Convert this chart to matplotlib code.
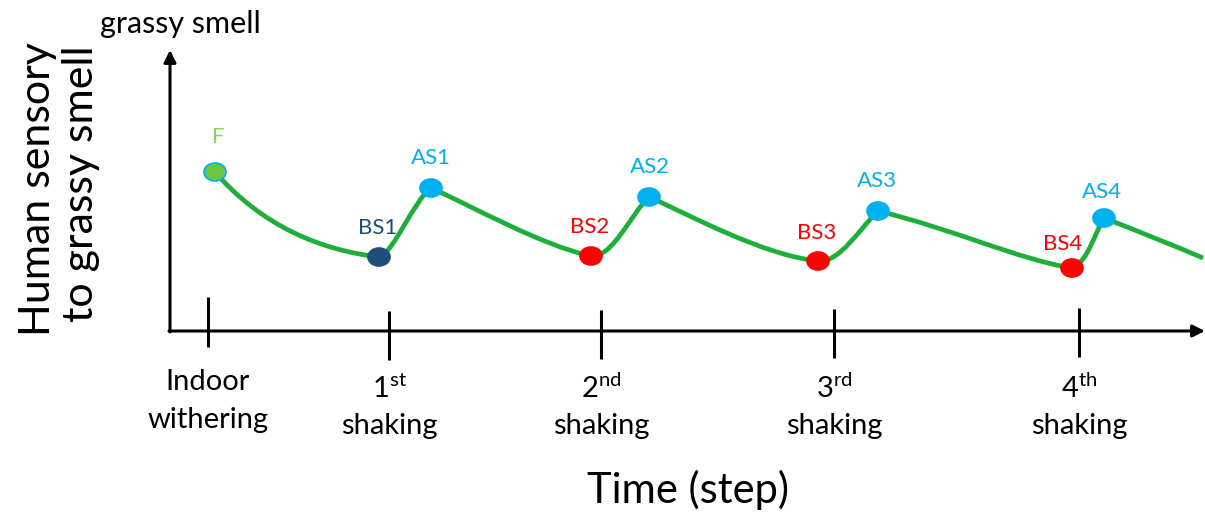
import matplotlib
matplotlib.use("Agg")
import matplotlib.pyplot as plt
from matplotlib.path import Path
from matplotlib.patches import PathPatch, Ellipse

plt.rcParams['font.family'] = ['Lato', 'DejaVu Sans']
plt.rcParams['mathtext.fontset'] = 'custom'
plt.rcParams['mathtext.rm'] = 'Lato'

# key points of the sensory curve (x = time position, y = level, image-style axis)
point_names = ["F", "BS1", "AS1", "BS2", "AS2", "BS3", "AS3", "BS4", "AS4"]
point_x = [215, 379, 431, 591, 649, 818, 878, 1072, 1104]
point_y = [172, 257, 188, 256, 197, 261, 211, 268, 218]
point_colors = ["#6CC644", "#1F4E79", "#00B0F0", "#FF0000", "#00B0F0",
                "#FF0000", "#00B0F0", "#FF0000", "#00B0F0"]
label_colors = ["#7ED957", "#1F4E79", "#00B0F0", "#FF0000", "#00B0F0",
                "#FF0000", "#00B0F0", "#FF0000", "#00B0F0"]
label_x = [218, 378, 431, 590, 650, 817, 877, 1063, 1102]
label_y = [137, 228, 158, 227, 167, 233, 181, 244, 192]

# bezier control points between consecutive key points (+ a tail segment)
ctrl1_x = [262, 393, 470, 613, 690, 840, 950, 1088, 1140]
ctrl1_y = [226, 254, 205, 258, 215, 263, 228, 262, 232]
ctrl2_x = [320, 414, 540, 632, 762, 860, 1020, 1095, 1175]
ctrl2_y = [250, 200, 245, 212, 255, 228, 260, 232, 246]
tail_x, tail_y = 1203, 258

# time axis steps
step_x = [208, 389, 601, 834, 1079]
step_top = [297, 311, 310, 309, 308]
step_bottom = [347, 360, 359, 358, 357]
step_num = ["", "1", "2", "3", "4"]
step_sup = ["", "st", "nd", "rd", "th"]

fig = plt.figure(figsize=(12.05, 5.16), dpi=100)
ax = fig.add_axes([0, 0, 1, 1])
ax.set_xlim(0, 1205)
ax.set_ylim(516, 0)
ax.axis('off')

# axes with arrows
ax.annotate('', xy=(1205, 331), xytext=(169, 331),
            arrowprops=dict(arrowstyle='-|>', color='black', lw=2.2,
                            mutation_scale=18, shrinkA=0, shrinkB=0))
ax.annotate('', xy=(170, 50), xytext=(170, 332),
            arrowprops=dict(arrowstyle='-|>', color='black', lw=2.2,
                            mutation_scale=18, shrinkA=0, shrinkB=0))

# step ticks and labels
for i, x in enumerate(step_x):
    ax.plot([x, x], [step_top[i], step_bottom[i]], color='black', lw=2.2,
            solid_capstyle='butt')
    if step_num[i]:
        ax.text(x, 388, step_num[i] + r'$^{\mathrm{' + step_sup[i] + '}}$',
                ha='center', va='center', fontsize=21)
        ax.text(x, 426, 'shaking', ha='center', va='center', fontsize=21)
    else:
        ax.text(x, 382, 'Indoor', ha='center', va='center', fontsize=21)
        ax.text(x, 420, 'withering', ha='center', va='center', fontsize=21)

# curve
verts = []
codes = []
verts.append((point_x[0], point_y[0]))
codes.append(Path.MOVETO)
ends_x = point_x[1:] + [tail_x]
ends_y = point_y[1:] + [tail_y]
for i in range(len(ends_x)):
    verts += [(ctrl1_x[i], ctrl1_y[i]), (ctrl2_x[i], ctrl2_y[i]),
              (ends_x[i], ends_y[i])]
    codes += [Path.CURVE4] * 3
ax.add_patch(PathPatch(Path(verts, codes), facecolor='none',
                       edgecolor='#1DAF3A', lw=3.4, zorder=2))

# points and labels
for i, name in enumerate(point_names):
    edge = '#00B0F0' if name == 'F' else point_colors[i]
    ax.add_patch(Ellipse((point_x[i], point_y[i]), 22, 18,
                         facecolor=point_colors[i], edgecolor=edge,
                         lw=1.2, zorder=3))
    ax.text(label_x[i], label_y[i], name, ha='center', va='center',
            fontsize=16, color=label_colors[i])

# axis titles
ax.text(180, 24, 'grassy smell', ha='center', va='center', fontsize=22)
ax.text(688, 490, 'Time (step)', ha='center', va='center', fontsize=30)
ax.text(38, 189, 'Human sensory', ha='center', va='center', fontsize=31,
        rotation=90)
ax.text(81, 184, 'to grassy smell', ha='center', va='center', fontsize=31,
        rotation=90)

fig.savefig('out.png', dpi=100, facecolor='white')
